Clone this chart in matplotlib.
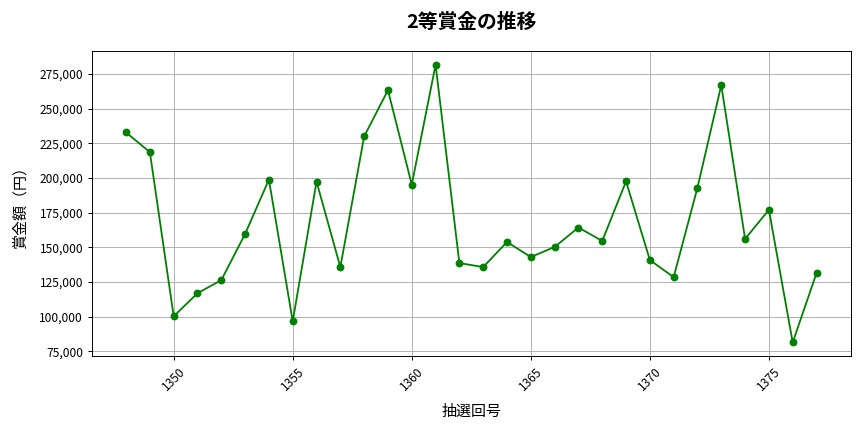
import matplotlib
matplotlib.use("Agg")
import matplotlib.pyplot as plt
from matplotlib.ticker import FuncFormatter

plt.rcParams['font.family'] = ['Noto Sans CJK JP', 'DejaVu Sans']

draw_numbers = list(range(1348, 1378))
prize_2nd = [
    232900, 218650, 100150, 116840, 126270, 159640, 198820, 96520, 197370, 135700,
    230020, 263390, 195190, 281770, 138600, 135700, 153840, 142960, 150210, 164240,
    154570, 197610, 140780, 128450, 193020, 267020, 156020, 177060, 81290, 131350,
]

fig, ax = plt.subplots(figsize=(10, 5), dpi=86.4)
ax.plot(draw_numbers, prize_2nd, marker='o', markersize=5.5, color='green')
ax.set_title("2等賞金の推移", fontsize=16.5, fontweight='bold', pad=19)
ax.set_xlabel("抽選回号", fontsize=12.5, labelpad=10)
ax.set_ylabel("賞金額（円）", fontsize=12.5, labelpad=10)
ax.yaxis.set_major_formatter(FuncFormatter(lambda v, _: f"{int(v):,}"))
ax.tick_params(axis='x', rotation=45)
ax.grid(True)
plt.tight_layout()
plt.savefig("out.png")
